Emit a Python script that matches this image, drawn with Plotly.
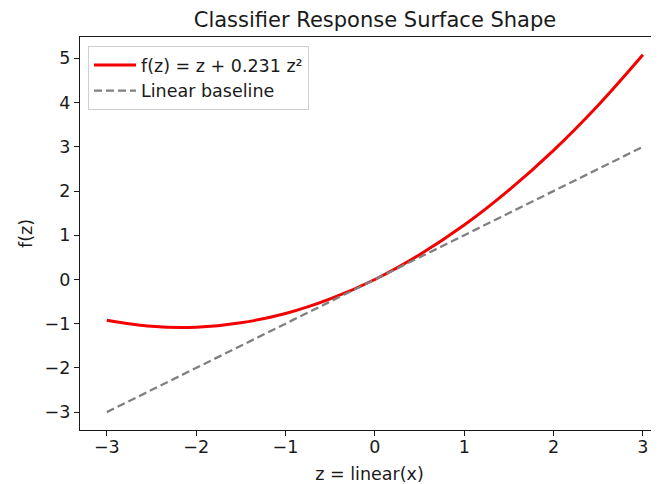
import plotly.graph_objects as go

# values
z = [-3.0, -2.5, -2.0, -1.5, -1.0, -0.5, 0.0, 0.5, 1.0, 1.5, 2.0, 2.5, 3.0]
f_z = [-0.92, -1.06, -1.08, -0.98, -0.77, -0.44, 0.0, 0.56, 1.23, 2.02, 2.92, 3.94, 5.08]
linear = [-3.0, -2.5, -2.0, -1.5, -1.0, -0.5, 0.0, 0.5, 1.0, 1.5, 2.0, 2.5, 3.0]
x_ticks = [-3, -2, -1, 0, 1, 2, 3]
y_ticks = [-3, -2, -1, 0, 1, 2, 3, 4, 5]

fig = go.Figure()
fig.add_trace(go.Scatter(x=z, y=f_z, mode="lines", name="f(z) = z + 0.231 z²",
                         line=dict(color="#f40000", width=3, shape="spline")))
fig.add_trace(go.Scatter(x=z, y=linear, mode="lines", name="Linear baseline",
                         line=dict(color="#808080", width=2.3, dash="8px,4px")))

W, H = 651, 476  # page body has an 8px margin
font = dict(family="DejaVu Sans", size=17.5, color="#1a1a1a")
fig.update_layout(
    width=W, height=H,
    margin=dict(l=72, r=0, t=29, b=54, autoexpand=False),
    paper_bgcolor="white", plot_bgcolor="white",
    font=font,
    title=dict(text="Classifier Response Surface Shape", x=367 / W, xanchor="center",
               y=1 - 12 / H, yanchor="middle", font=dict(family="DejaVu Sans", size=21, color="#1a1a1a")),
    showlegend=True,
    legend=dict(x=8 / 579, y=(393 - 9) / 393, xanchor="left", yanchor="top",
                bgcolor="rgba(255,255,255,0.8)", bordercolor="#d0d0d0", borderwidth=1,
                font=dict(family="DejaVu Sans", size=17.5, color="#1a1a1a"), tracegroupgap=0,
                itemwidth=42),
)
fig.update_xaxes(range=[-3.3, 3.18], tickvals=x_ticks, ticktext=[str(v).replace("-", "−") for v in x_ticks],
                 showgrid=False, zeroline=False, showline=True, linecolor="#1a1a1a", linewidth=1.3,
                 mirror=True, ticks="outside", ticklen=5, tickcolor="#1a1a1a", automargin=False,
                 ticklabelstandoff=-4,
                 title=dict(text="z = linear(x)", standoff=11, font=font))
fig.update_yaxes(range=[-3.404, 5.483], tickvals=y_ticks, ticktext=[str(v).replace("-", "−") for v in y_ticks],
                 showgrid=False, zeroline=False, showline=True, linecolor="#1a1a1a", linewidth=1.3,
                 ticks="outside", ticklen=5, tickcolor="#1a1a1a", automargin=False,
                 title=dict(text="f(z)", standoff=7, font=font))
fig.write_html("out.html")
